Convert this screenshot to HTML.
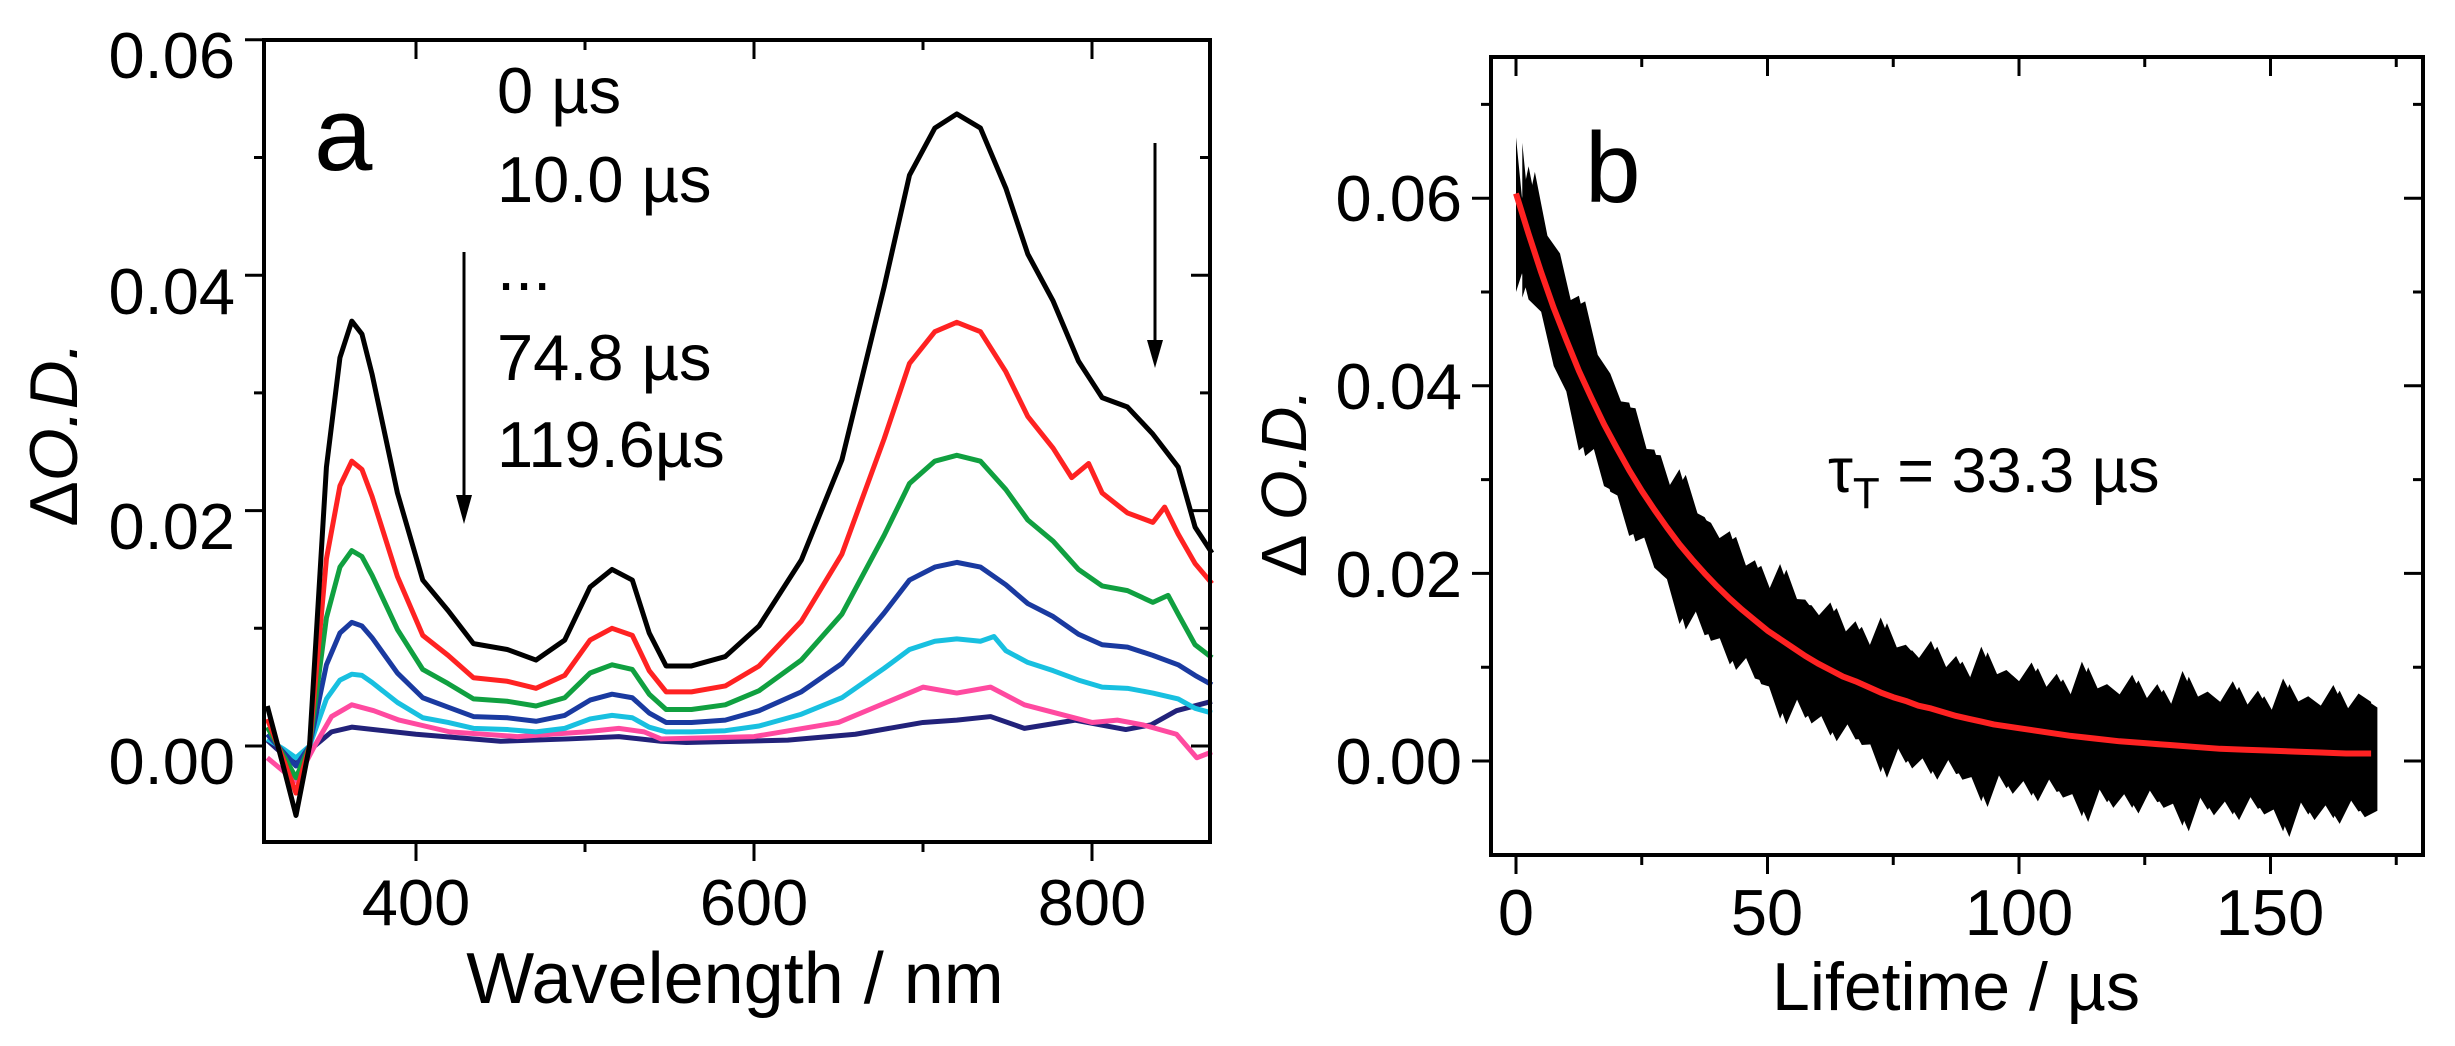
<!DOCTYPE html>
<html><head><meta charset="utf-8"><style>
html,body{margin:0;padding:0;background:#fff;}
svg{display:block;font-family:"Liberation Sans",Arial,sans-serif;}
</style></head><body>
<svg width="2455" height="1046" viewBox="0 0 2455 1046" xmlns="http://www.w3.org/2000/svg">
<rect width="2455" height="1046" fill="#fff"/>
<g transform="matrix(1.69 0 0 -1.177 -260 746)" fill="none" stroke-linejoin="round" stroke-width="5">
<path vector-effect="non-scaling-stroke" stroke="#22227a" d="M312,5 L322,-8 L329,-15 L340,0 L350,12 L362,16 L400,10 L450,4 L490,6 L520,8 L545,4 L560,3 L620,5 L660,10 L700,20 L720,22 L740,25 L760,15 L790,22 L820,14 L835,18 L850,30 L871,38"/>
<path vector-effect="non-scaling-stroke" stroke="#ff4aa0" d="M312,-10 L322,-22 L329,-30 L340,0 L350,25 L362,35 L375,30 L390,22 L420,12 L460,8 L500,12 L520,15 L535,12 L545,6 L600,8 L650,20 L700,50 L720,45 L740,50 L760,35 L800,20 L815,22 L830,18 L850,10 L862,-10 L871,-5"/>
<path vector-effect="non-scaling-stroke" stroke="#18c0e0" d="M312,6 L322,-3 L329,-10 L337,0 L347,40 L355,56 L362,61 L368,60 L374,54 L389,37 L404,24 L419,20 L434,15 L454,14 L471,12 L488,15 L503,23 L516,26 L528,24 L538,16 L548,12 L563,12 L583,13 L603,17 L628,27 L652,41 L677,66 L692,82 L707,89 L720,91 L734,89 L742,93 L749,81 L762,71 L777,64 L792,56 L806,50 L821,49 L836,45 L851,40 L861,32 L871,28"/>
<path vector-effect="non-scaling-stroke" stroke="#1a3aa0" d="M312,10 L322,-6 L329,-17 L337,0 L347,69 L355,96 L362,105 L368,102 L374,92 L389,62 L404,41 L419,33 L434,25 L454,24 L471,21 L488,26 L503,39 L516,44 L528,41 L538,28 L548,20 L563,20 L583,22 L603,30 L628,46 L652,70 L677,113 L692,141 L707,152 L720,156 L734,152 L749,137 L762,121 L777,110 L792,95 L806,86 L821,84 L836,77 L851,69 L861,60 L871,52"/>
<path vector-effect="non-scaling-stroke" stroke="#10a040" d="M312,16 L322,-9 L329,-27 L337,0 L347,109 L355,152 L362,166 L368,161 L374,145 L389,99 L404,65 L419,53 L434,40 L454,38 L471,34 L488,41 L503,62 L516,69 L528,65 L538,44 L548,31 L563,31 L583,35 L603,47 L628,73 L652,112 L677,179 L692,223 L707,242 L720,247 L734,242 L749,218 L762,192 L777,174 L792,150 L806,136 L821,132 L836,122 L845,128 L851,112 L861,86 L871,75"/>
<path vector-effect="non-scaling-stroke" stroke="#ff2222" d="M312,23 L322,-13 L329,-40 L337,0 L347,159 L355,221 L362,242 L368,235 L374,212 L389,144 L404,94 L419,77 L434,58 L454,55 L471,49 L488,60 L503,90 L516,100 L528,94 L538,64 L548,46 L563,46 L583,51 L603,68 L628,106 L652,163 L677,261 L692,325 L707,352 L720,360 L734,352 L749,318 L762,280 L777,253 L788,228 L798,240 L806,215 L821,198 L836,190 L843,203 L851,180 L861,155 L871,138"/>
<path vector-effect="non-scaling-stroke" stroke="#000" d="M312,34 L322,-20 L329,-59 L337,0 L347,237 L355,330 L362,361 L368,350 L374,316 L389,215 L404,141 L419,115 L434,87 L454,82 L471,73 L488,90 L503,135 L516,150 L528,141 L538,96 L548,68 L563,68 L583,76 L603,102 L628,158 L652,243 L677,390 L692,485 L707,525 L720,537 L734,525 L749,474 L762,418 L777,378 L792,327 L806,296 L821,288 L836,265 L851,237 L861,186 L871,164"/>
</g>
<rect x="264" y="40" width="946" height="802" fill="none" stroke="#000" stroke-width="4"/>
<path stroke="#000" stroke-width="3" fill="none" d="
M245,746H264 M254,628.3H264 M245,510.6H264 M254,392.9H264 M245,275.2H264 M254,157.5H264 M245,39.8H264
M1210,746H1191 M1210,628.3H1200 M1210,510.6H1191 M1210,392.9H1200 M1210,275.2H1191 M1210,157.5H1200
M416,842V861 M585,842V852 M754,842V861 M923,842V852 M1092,842V861
M416,40V59 M585,40V50 M754,40V59 M923,40V50 M1092,40V59"/>
<g font-size="65" fill="#000">
<text x="235" y="78" text-anchor="end">0.06</text>
<text x="235" y="314" text-anchor="end">0.04</text>
<text x="235" y="549" text-anchor="end">0.02</text>
<text x="235" y="784" text-anchor="end">0.00</text>
<text x="416" y="925" text-anchor="middle">400</text>
<text x="754" y="925" text-anchor="middle">600</text>
<text x="1092" y="925" text-anchor="middle">800</text>
<text x="735" y="1003" text-anchor="middle" font-size="72">Wavelength / nm</text>
<text transform="translate(77,434) rotate(-90)" text-anchor="middle" font-size="68">Δ<tspan font-style="italic">O.D.</tspan></text>
<text x="314" y="170" font-size="105">a</text>
<text x="497" y="113">0 µs</text>
<text x="497" y="202">10.0 µs</text>
<text x="497" y="290">...</text>
<text x="497" y="380">74.8 µs</text>
<text x="497" y="467">119.6µs</text>
</g>
<g stroke="#000" stroke-width="3">
<line x1="464" y1="252" x2="464" y2="505"/>
<line x1="1155" y1="143" x2="1155" y2="350"/>
</g>
<polygon points="456,495 472,495 464,524" fill="#000"/>
<polygon points="1147,340 1163,340 1155,368" fill="#000"/>

<g transform="matrix(5.03 0 0 -0.938 1516 761)">
<polygon id="band" fill="#000" points="
0,665 1.2,600 2.5,634 5,566 7.5,547 10,489 12.5,496 15,439 17.5,419 20,384 22.5,382 25,333 27.5,332 30,289 32.5,311 35,267 37.5,260 40,236 42.5,245 45,206 47.5,214 50,179 52.5,210 55,173 57.5,172 60,154 62.5,169 65,135 67.5,149 70,119 72.5,153 75,120 77.5,124 80,109 82.5,128 85,97 87.5,112 90,85 92.5,122 95,91 97.5,97 100,85 102.5,105 105,76 107.5,93 110,67 112.5,106 115,76 117.5,82 120,71 122.5,92 125,64 127.5,82 130,57 132.5,96 135,67 137.5,74 140,63 142.5,85 145,57 147.5,75 150,51 152.5,88 155,62 157.5,69 160,59 162.5,81 165,53 167.5,72 170,63
170,-47 167.5,-54 165,-34 162.5,-61 160,-39 157.5,-57 155,-35 152.5,-75 150,-44 147.5,-51 145,-30 142.5,-57 140,-35 137.5,-52 135,-30 132.5,-69 130,-38 127.5,-44 125,-23 122.5,-50 120,-27 117.5,-44 115,-21 112.5,-59 110,-28 107.5,-33 105,-11 102.5,-37 100,-13 97.5,-29 95,-6 92.5,-43 90,-10 87.5,-14 85,10 82.5,-14 80,11 77.5,-2 75,23 72.5,-12 70,24 67.5,23 65,48 62.5,27 60,56 57.5,46 55,76 52.5,45 50,84 47.5,88 45,119 42.5,103 40,138 37.5,134 35,170 32.5,146 30,194 27.5,206 25,246 22.5,240 20,286 17.5,293 15,342 12.5,331 10,394 7.5,421 5,479 2.5,492 1.2,520 0,500"/>
<use href="#band" transform="translate(1.25,-6)"/>
<polyline fill="none" stroke="#ff2222" stroke-width="6" vector-effect="non-scaling-stroke" stroke-linejoin="round" points="0,605 2.5,562 5,521 7.5,483 10,449 12.5,416 15,387 17.5,359 20,334 22.5,310 25,288 27.5,268 30,249 32.5,231 35,215 37.5,200 40,186 42.5,173 45,161 47.5,150 50,139 52.5,130 55,121 57.5,112 60,104 62.5,97 65,90 67.5,85 70,79 72.5,73 75,68 77.5,64 80,59 82.5,56 85,52 87.5,48 90,45 92.5,42 95,39 97.5,37 100,35 105,31 110,27 115,24 120,21 125,19 130,17 135,15 140,13 145,12 150,11 155,10 160,9 165,8 170,8"/>
</g>
<rect x="1491" y="57" width="932" height="798" fill="none" stroke="#000" stroke-width="4"/>
<path stroke="#000" stroke-width="3" fill="none" d="
M1472,761H1491 M1481,667.2H1491 M1472,573.4H1491 M1481,479.6H1491 M1472,385.8H1491 M1481,292H1491 M1472,198.2H1491 M1481,104.4H1491
M2423,761H2404 M2423,667.2H2413 M2423,573.4H2404 M2423,479.6H2413 M2423,385.8H2404 M2423,292H2413 M2423,198.2H2404 M2423,104.4H2413
M1516,855V874 M1641.75,855V865 M1767.5,855V874 M1893.25,855V865 M2019,855V874 M2144.75,855V865 M2270.5,855V874 M2396.25,855V865
M1516,57V76 M1641.75,57V67 M1767.5,57V76 M1893.25,57V67 M2019,57V76 M2144.75,57V67 M2270.5,57V76 M2396.25,57V67"/>
<g font-size="65" fill="#000">
<text x="1462" y="221" text-anchor="end">0.06</text>
<text x="1462" y="409" text-anchor="end">0.04</text>
<text x="1462" y="597" text-anchor="end">0.02</text>
<text x="1462" y="784" text-anchor="end">0.00</text>
<text x="1516" y="935" text-anchor="middle">0</text>
<text x="1767" y="935" text-anchor="middle">50</text>
<text x="2019" y="935" text-anchor="middle">100</text>
<text x="2270" y="935" text-anchor="middle">150</text>
<text x="1956" y="1010" text-anchor="middle" font-size="68">Lifetime / µs</text>
<text transform="translate(1306,483) rotate(-90)" text-anchor="middle" font-size="64">Δ <tspan font-style="italic">O.D.</tspan></text>
<text x="1585" y="202" font-size="100">b</text>
<text x="1828" y="492" font-size="63">τ<tspan font-size="44" dy="16">T</tspan><tspan dy="-16"> = 33.3 µs</tspan></text>
</g>
</svg>
</body></html>
